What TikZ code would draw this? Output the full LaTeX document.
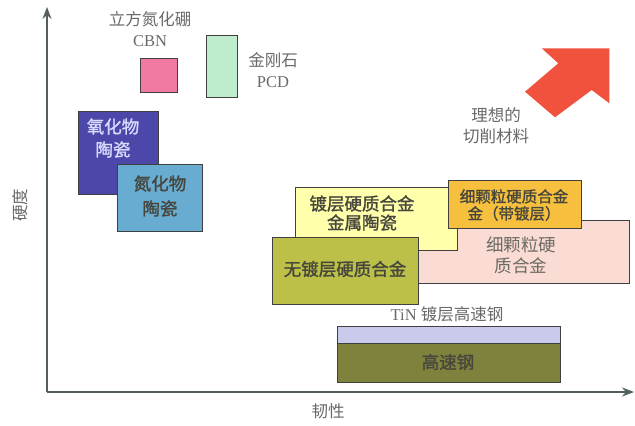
\documentclass[tikz,border=0pt]{standalone}
\usepackage{fontspec}
\setmainfont{Liberation Serif}
\newfontfamily\cjk{Noto Sans CJK SC}
\newfontfamily\cjkb[FakeBold=1.3]{Noto Sans CJK SC}
\usetikzlibrary{arrows.meta}
\definecolor{axisc}{RGB}{85,95,95}
\definecolor{lblc}{RGB}{105,105,105}
\definecolor{txtc}{RGB}{70,70,60}
\definecolor{cbnc}{RGB}{242,122,162}
\definecolor{pcdc}{RGB}{192,236,206}
\definecolor{oxc}{RGB}{76,72,170}
\definecolor{nic}{RGB}{104,172,210}
\definecolor{yelc}{RGB}{255,255,172}
\definecolor{orc}{RGB}{246,192,62}
\definecolor{pkc}{RGB}{250,220,212}
\definecolor{olc}{RGB}{188,192,72}
\definecolor{lavc}{RGB}{202,202,236}
\definecolor{dolc}{RGB}{126,130,60}
\definecolor{redc}{RGB}{240,82,62}
\tikzset{
  box/.style={draw=black!75, line width=1.2pt, anchor=north west, inner sep=0pt},
  lbl/.style={text=lblc, font=\fontsize{16.5}{21}\selectfont, align=center, inner sep=0pt},
  clbl/.style={lbl, font=\cjk\fontsize{16.5}{21}\selectfont},
  btxt/.style={text=txtc, font=\cjkb\fontsize{17.5}{21}\selectfont, align=center, inner sep=0pt},
  axis/.style={draw=axisc, line width=1.3pt, -{Stealth[length=12pt,width=9pt]}}
}
\begin{document}
\begin{tikzpicture}[x=1pt,y=-1pt]
\useasboundingbox (0,0) rectangle (635,426);
% axes
\coordinate (O) at (47,392);
\coordinate (ytop) at (47,7);
\coordinate (xend) at (634,392);
\draw[axis] (O) -- (ytop);
\draw[axis] (O) -- (xend);
\node[clbl, rotate=90] (ylab) at (20,205) {硬度};
\node[clbl] (xlab) at (328,411) {韧性};
% CBN and PCD
\node[box, fill=cbnc, minimum width=37pt, minimum height=34pt] (cbn) at (140,58) {};
\node[lbl] (cbnlab) at (150,29) {{\cjk 立方氮化硼}\\CBN};
\node[box, fill=pcdc, minimum width=31pt, minimum height=62pt] (pcd) at (206,35) {};
\node[lbl] (pcdlab) at (273,70) {{\cjk 金刚石}\\PCD};
% ceramics
\node[box, fill=oxc, minimum width=80pt, minimum height=83pt] (ox) at (78,111) {};
\node[btxt, text=white!85!blue, font=\cjkb\fontsize{17.5}{23}\selectfont] (oxlab) at (113,138) {氧化物\\陶瓷};
\node[box, fill=nic, minimum width=85pt, minimum height=67pt] (ni) at (117,164) {};
\node[btxt, font=\cjkb\fontsize{17.5}{25}\selectfont] (nilab) at (160,196) {氮化物\\陶瓷};
% carbides
\node[box, fill=pkc, minimum width=211pt, minimum height=63pt] (pk) at (418,220) {};
\node[btxt, text=txtc!80, font=\cjk\fontsize{17.5}{21}\selectfont] (pklab) at (521,255) {细颗粒硬\\质合金};
\node[box, fill=yelc, minimum width=162pt, minimum height=63pt] (yel) at (295,187) {};
\node[btxt, font=\cjkb\fontsize{17.5}{19}\selectfont] (yellab) at (362,213) {镀层硬质合金\\金属陶瓷};
\node[box, fill=orc, minimum width=133pt, minimum height=48pt] (or) at (448,180) {};
\node[btxt, font=\cjkb\fontsize{15.5}{17}\selectfont] (orlab) at (514,205) {细颗粒硬质合金\\金（带镀层）};
\node[box, fill=olc, minimum width=146pt, minimum height=67pt] (ol) at (272,237) {};
\node[btxt] (ollab) at (345,269) {无镀层硬质合金};
% HSS
\node[lbl] (tinlab) at (447,314) {TiN {\cjk 镀层高速钢}};
\node[box, fill=lavc, minimum width=223pt, minimum height=17pt] (tin) at (337,326) {};
\node[box, fill=dolc, minimum width=223pt, minimum height=39pt] (hss) at (337,343) {};
\node[btxt] (hsslab) at (448,362) {高速钢};
% ideal arrow
\fill[redc] (541.7,48.3) -- (609.3,48.3) -- (609.3,103.3) -- (591.7,90) -- (555,117.3) -- (525,91.7) -- (558.3,63.3) -- cycle;
\node[clbl] (ideal) at (496,126) {理想的\\切削材料};
\end{tikzpicture}
\end{document}
